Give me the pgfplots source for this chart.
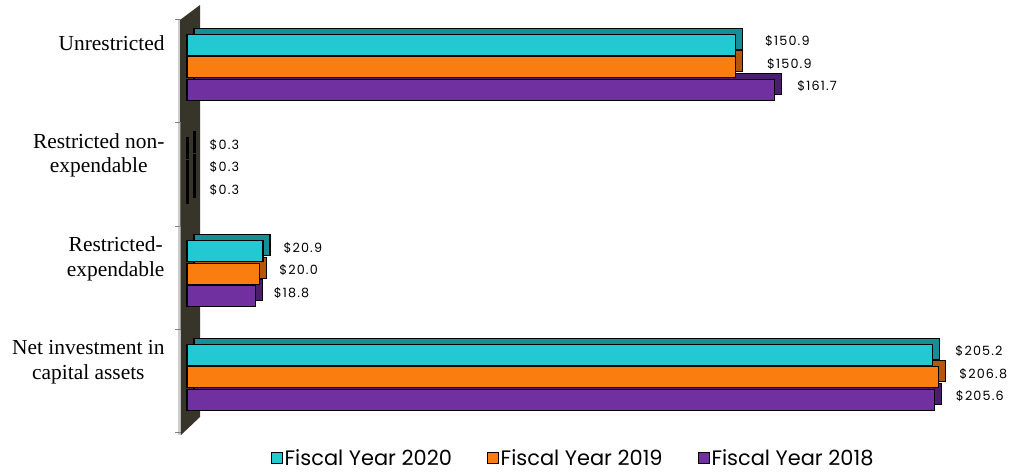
\documentclass[border=0pt]{standalone}
\usepackage{fontspec}
\usepackage{pgfplots}
\usepackage{pgfplotstable}
\pgfplotsset{compat=1.18}
\setmainfont{Liberation Serif}
\newfontfamily\valfont{Poppins}
\newfontfamily\numfont[LetterSpace=9]{Poppins}
\definecolor{cA}{HTML}{22C8D2}
\definecolor{cAd}{HTML}{168E96}
\definecolor{cB}{HTML}{FA7D0F}
\definecolor{cBd}{HTML}{B5570A}
\definecolor{cC}{HTML}{7030A0}
\definecolor{cCd}{HTML}{4A1E6C}
\definecolor{wall}{HTML}{37352A}

\pgfplotstableread{
y x sh
0 150.9 29
1 0.3 21
2 20.9 20
3 205.2 22
}\tblA
\pgfplotstableread{
y x sh
0 150.9 31
1 0.3 21
2 20.0 19
3 206.8 20
}\tblB
\pgfplotstableread{
y x sh
0 161.7 22
1 0.3 21
2 18.8 18
3 205.6 21
}\tblC

\pgfplotsset{
  frontbar/.style={
    draw=black, line width=1.1bp,
    point meta=x,
    visualization depends on={\thisrow{sh}\as\sh},
    nodes near coords={\numfont\$\pgfmathprintnumber[fixed,fixed zerofill,precision=1,assume math mode=true]{\pgfplotspointmeta}},
    every node near coord/.append style={anchor=west, inner sep=0pt, xshift=\sh bp, yshift=3.5bp,
      font=\numfont\fontsize{12.8}{14}\selectfont, text=black},
  },
  depthbar/.style={draw=black, line width=1.1bp, xshift=7bp, yshift=6bp, forget plot},
}

\begin{document}
\begin{tikzpicture}[x=1bp,y=1bp]
\useasboundingbox (0,0) rectangle (1009,473);
% side wall
\fill[gray!40] (178,453) -- (180.5,453) -- (180.5,38) -- (178,38) -- cycle;
\fill[wall] (180,453) -- (200,468) -- (200,56) -- (181,38) -- cycle;
\begin{axis}[
  at={(187bp,40bp)}, anchor=south west,
  scale only axis, width=813bp, height=413.5bp,
  xbar, y dir=reverse, clip=false,
  xmin=0, xmax=223.66, ymin=-0.5, ymax=3.5,
  axis x line=none, axis y line*=left, y axis line style={draw=none},
  ytick={0,1,2,3},
  yticklabels={{\raisebox{18bp}{Unrestricted}},{Restricted non-\\expendable},{Restricted-\\expendable},{Net investment in\\capital assets}},
  major tick length=0pt,
  minor ytick={-0.5,0.5,1.5,2.5,3.5},
  minor tick length=6bp, tick align=outside,
  every minor tick/.append style={gray, line width=1bp, xshift=-6bp},
  yticklabel style={font=\fontsize{21.5}{24.5}\selectfont, align=center, anchor=east, xshift=-19bp, yshift=19bp},
  bar width=21bp,
  legend style={at={(0.475,-0.06)}, anchor=center, draw=none, fill=none, legend columns=3,
    font=\valfont\fontsize{21}{23}\selectfont, nodes={inner xsep=2bp},
    /tikz/every even column/.append style={column sep=33bp}},
  legend image code/.code={\draw[#1, draw=black, line width=0.8bp] (0bp,-5.5bp) rectangle (11bp,5.5bp);},
]
\addplot[depthbar, fill=cAd, bar shift=26.5bp] table[x=x,y=y]{\tblA};
\addplot[depthbar, fill=cBd, bar shift=4bp] table[x=x,y=y]{\tblB};
\addplot[depthbar, fill=cCd, bar shift=-18.5bp] table[x=x,y=y]{\tblC};
\addplot[frontbar, fill=cA, bar shift=26.5bp] table[x=x,y=y]{\tblA};
\addplot[frontbar, fill=cB, bar shift=4bp] table[x=x,y=y]{\tblB};
\addplot[frontbar, fill=cC, bar shift=-18.5bp] table[x=x,y=y]{\tblC};
\legend{Fiscal Year 2020,Fiscal Year 2019,Fiscal Year 2018}
\end{axis}
\end{tikzpicture}
\end{document}
